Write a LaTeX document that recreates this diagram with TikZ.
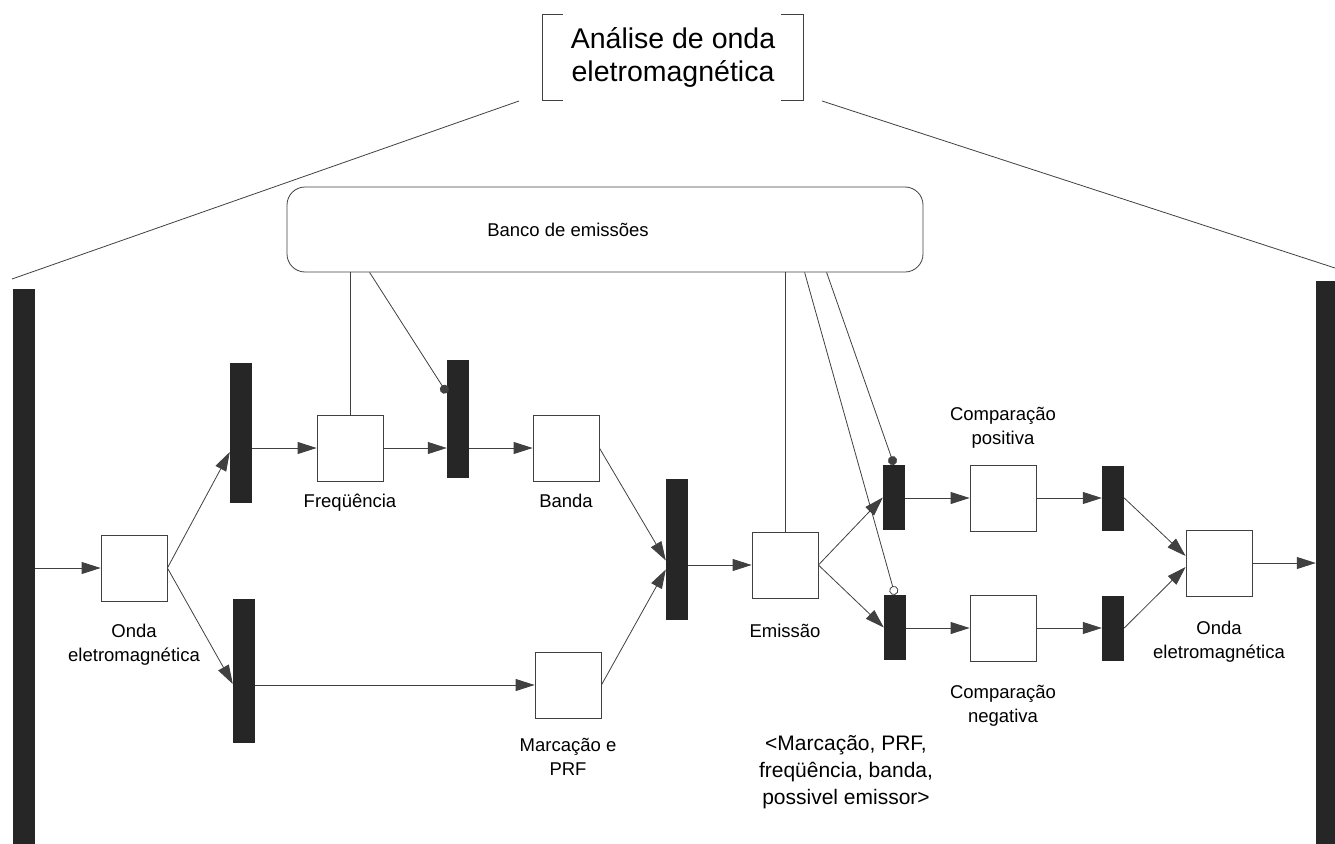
\documentclass[tikz,border=0pt]{standalone}
\usepackage{fontspec}
\setmainfont{Liberation Sans}
\usetikzlibrary{arrows.meta,positioning}

\tikzset{
  place/.style={draw=black!75, line width=0.8pt, minimum width=66pt, minimum height=66pt, inner sep=0pt},
  trans/.style={fill=black!85, inner sep=0pt, minimum width=22pt},
  lbl/.style={font=\fontsize{18.5}{24}\selectfont, align=center, inner sep=0pt},
  arc/.style={draw=black!75, line width=0.8pt, -{Triangle[length=19pt,width=12pt]}},
  link/.style={draw=black!75, line width=0.8pt},
  dotlink/.style={link, -{Circle[length=9pt]}},
  odotlink/.style={link, -{Circle[open,length=9pt]}},
}

\begin{document}
\begin{tikzpicture}[x=1pt,y=-1pt]
    \useasboundingbox (0,0) rectangle (1335,843);

    % Title in brackets
    \node[font=\fontsize{28.5}{33}\selectfont, align=center, inner sep=0pt,
          minimum width=260pt, minimum height=85pt] (title) at (673,57.5) {Análise de onda\\eletromagnética};
    \draw[link] ([xshift=20pt]title.north west) -- (title.north west) -- (title.south west) -- ++(20pt,0);
    \draw[link] ([xshift=-22pt]title.north east) -- (title.north east) -- (title.south east) -- ++(-22pt,0);

    \coordinate (tl) at (519,101);
    \coordinate (tr) at (822,101);
    \coordinate (sl) at (12,279);
    \coordinate (sr) at (1335,268);
    \draw[link] (tl) -- (sl);
    \draw[link] (tr) -- (sr);

    % Bank
    \node[draw=black!75, line width=0.8pt, rounded corners=18pt,
          minimum width=636pt, minimum height=85pt] (bank) at (605,229.5) {};
    \node[lbl] (bank-lbl) at (568,230) {Banco de emissões};

    % Transitions
    \foreach \name/\x/\y/\h in {barin/23.5/570/562, barA/241/433/140, barB/244/671/144,
        barC/458/419/118, barD/677/549.5/141, barE/894/497.5/65, barF/895/627.5/65,
        barG/1113/498/65, barH/1113/628/65, barout/1327/566/570} {
        \node[trans, minimum height=\h pt] (\name) at (\x,\y) {};
    }

    % Places
    \foreach \name/\x/\y in {onda1/134/568, freq/350/448, banda/566/448, marc/568/685,
        emis/785/565, cpos/1003/498, cneg/1003/628, onda2/1219/563} {
        \node[place] (\name) at (\x,\y) {};
    }

    \node[lbl, below=22pt of onda1] (onda1-lbl) {Onda\\eletromagnética};
    \node[lbl, below=12pt of freq] (freq-lbl) {Freqüência};
    \node[lbl, below=12pt of banda] (banda-lbl) {Banda};
    \node[lbl, below=20pt of marc] (marc-lbl) {Marcação e\\PRF};
    \node[lbl, below=25pt of emis] (emis-lbl) {Emissão};
    \node[lbl, above=16pt of cpos] (cpos-lbl) {Comparação\\positiva};
    \node[lbl, below=24pt of cneg] (cneg-lbl) {Comparação\\negativa};
    \node[lbl, below=24pt of onda2] (onda2-lbl) {Onda\\eletromagnética};
    \node[font=\fontsize{21}{27}\selectfont, align=center, inner sep=0pt] (tuple) at (846,772)
        {<Marcação, PRF,\\freqüência, banda,\\possivel emissor>};

    % Arcs
    \draw[arc] (barin.east |- onda1.west) -- (onda1.west);
    \draw[arc] (onda1.east) -- ([yshift=-19pt]barA.west);
    \draw[arc] (onda1.east) -- ([yshift=-13pt]barB.west);
    \draw[arc] (barA.east |- freq.west) -- (freq.west);
    \draw[arc] (barB.east |- marc.west) -- (marc.west);
    \draw[arc] (freq.east) -- (freq.east -| barC.west);
    \draw[arc] (barC.east |- banda.west) -- (banda.west);
    \draw[arc] (banda.east) -- ([yshift=-11pt]barD.west);
    \draw[arc] (marc.east) -- ([yshift=-20pt]barD.west);
    \draw[arc] (barD.east |- emis.west) -- (emis.west);
    \draw[arc] (emis.east) -- (barE.west);
    \draw[arc] (emis.east) -- (barF.west);
    \draw[arc] (barE.east |- cpos.west) -- (cpos.west);
    \draw[arc] (barF.east |- cneg.west) -- (cneg.west);
    \draw[arc] (cpos.east) -- (cpos.east -| barG.west);
    \draw[arc] (cneg.east) -- (cneg.east -| barH.west);
    \draw[arc] (barG.east) -- ([yshift=7pt]onda2.west);
    \draw[arc] (barH.east) -- ([yshift=-4pt]onda2.west);
    \draw[arc] (onda2.east) -- (onda2.east -| barout.west);

    % Links to the bank
    \draw[link] (freq.north) -- (freq.north |- bank.south);
    \draw[link] (emis.north) -- (emis.north |- bank.south);
    \draw[dotlink] ([xshift=83pt]bank.south west) -- ([yshift=26pt]barC.west);
    \draw[odotlink] ([xshift=518pt]bank.south west) -- (barF.north);
    \draw[dotlink] ([xshift=540pt]bank.south west) -- (barE.north);
\end{tikzpicture}
\end{document}
